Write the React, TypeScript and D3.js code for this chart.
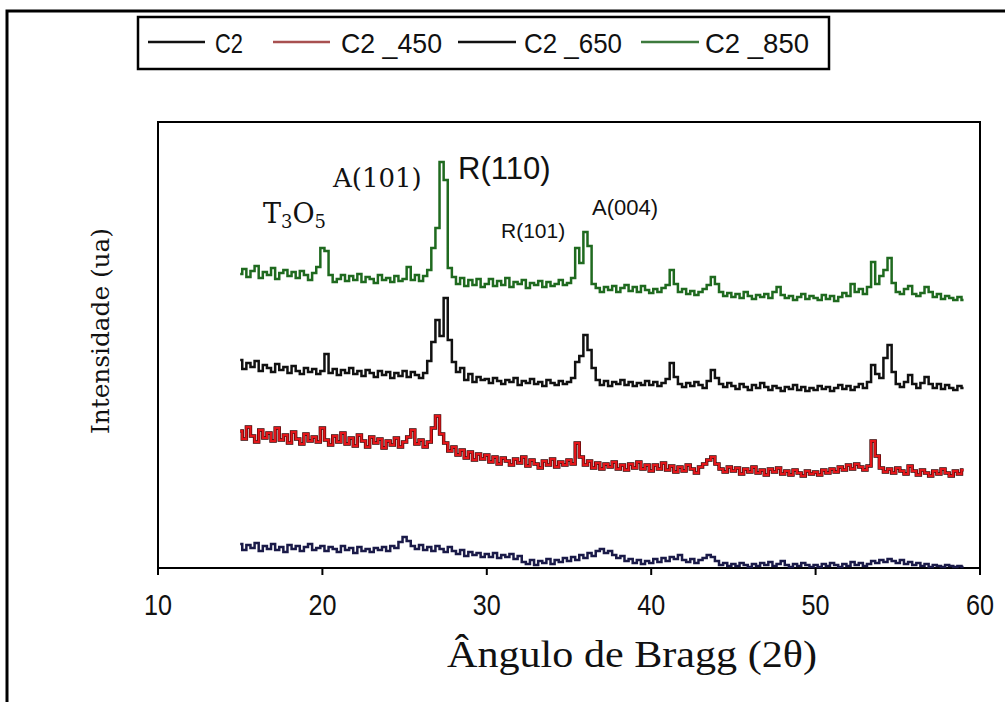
import React from 'react';
import * as d3 from 'd3';

// 2θ sampling grid (degrees)
const angles = [
  15, 15.25, 15.5, 15.75, 16, 16.25, 16.5, 16.75, 17, 17.25, 17.5, 17.75, 18, 18.25, 18.5, 18.75, 19, 19.25, 19.5, 19.75,
  20, 20.25, 20.5, 20.75, 21, 21.25, 21.5, 21.75, 22, 22.25, 22.5, 22.75, 23, 23.25, 23.5, 23.75, 24, 24.25, 24.5, 24.75,
  25, 25.25, 25.5, 25.75, 26, 26.25, 26.5, 26.75, 27, 27.25, 27.5, 27.75, 28, 28.25, 28.5, 28.75, 29, 29.25, 29.5, 29.75,
  30, 30.25, 30.5, 30.75, 31, 31.25, 31.5, 31.75, 32, 32.25, 32.5, 32.75, 33, 33.25, 33.5, 33.75, 34, 34.25, 34.5, 34.75,
  35, 35.25, 35.5, 35.75, 36, 36.25, 36.5, 36.75, 37, 37.25, 37.5, 37.75, 38, 38.25, 38.5, 38.75, 39, 39.25, 39.5, 39.75,
  40, 40.25, 40.5, 40.75, 41, 41.25, 41.5, 41.75, 42, 42.25, 42.5, 42.75, 43, 43.25, 43.5, 43.75, 44, 44.25, 44.5, 44.75,
  45, 45.25, 45.5, 45.75, 46, 46.25, 46.5, 46.75, 47, 47.25, 47.5, 47.75, 48, 48.25, 48.5, 48.75, 49, 49.25, 49.5, 49.75,
  50, 50.25, 50.5, 50.75, 51, 51.25, 51.5, 51.75, 52, 52.25, 52.5, 52.75, 53, 53.25, 53.5, 53.75, 54, 54.25, 54.5, 54.75,
  55, 55.25, 55.5, 55.75, 56, 56.25, 56.5, 56.75, 57, 57.25, 57.5, 57.75, 58, 58.25, 58.5, 58.75, 59,
];

// Intensities (ua), offset stacked as in the figure
const c2 = [
  24, 18, 23, 20, 25, 17, 22, 19, 24, 18, 21, 16, 23, 19, 22, 17, 21, 24, 18, 20,
  22, 17, 21, 19, 16, 22, 18, 20, 15, 21, 17, 19, 16, 20, 18, 21, 17, 22, 20, 26,
  31, 27, 22, 19, 23, 18, 21, 17, 22, 19, 16, 21, 17, 14, 18, 12, 16, 13, 15, 11,
  14, 11, 15, 10, 13, 11, 14, 9, 12, 6, 4, 8, 3, 7, 5, 9, 4, 8, 6, 10,
  7, 11, 8, 13, 10, 15, 12, 17, 19, 15, 17, 13, 10, 12, 7, 9, 5, 8, 4, 7,
  5, 9, 6, 10, 7, 11, 9, 13, 8, 6, 9, 5, 8, 10, 13, 11, 7, 3, 5, 2,
  4, 2, 5, 3, 1, 4, 2, 5, 3, 6, 2, 4, 7, 3, 1, 4, 2, 5, 3, 1,
  3, 1, 4, 2, 5, 3, 1, 4, 2, 6, 3, 5, 2, 4, 7, 5, 8, 6, 9, 7,
  5, 8, 4, 6, 3, 5, 2, 4, 1, 3, 2, 1, 3, 2, 1, 2, 1,
];

const c2_450 = [
  137, 129, 141, 132, 126, 138, 130, 135, 127, 140, 128, 133, 125, 136, 129, 124, 134, 127, 131, 126,
  140, 128, 123, 132, 126, 135, 124, 130, 122, 133, 127, 121, 131, 125, 129, 120, 127, 123, 130, 121,
  126, 131, 138, 124, 128, 121, 126, 140, 152, 134, 125, 117, 121, 113, 118, 110, 116, 108, 114, 109,
  113, 106, 111, 104, 110, 107, 103, 109, 105, 111, 102, 108, 104, 100, 107, 103, 109, 101, 106, 103,
  108, 104, 125, 111, 103, 107, 100, 105, 99, 104, 101, 106, 99, 103, 98, 104, 100, 106, 99, 103,
  97, 103, 99, 105, 98, 102, 96, 101, 97, 103, 99, 95, 101, 104, 108, 111, 104, 99, 96, 101,
  97, 100, 94, 99, 96, 101, 95, 98, 93, 99, 96, 100, 94, 97, 93, 98, 95, 92, 97, 94,
  96, 93, 98, 95, 99, 96, 101, 98, 103, 99, 104, 101, 98, 102, 127, 112, 100, 96, 99, 95,
  100, 97, 94, 102, 97, 93, 98, 95, 92, 97, 94, 99, 95, 92, 97, 94, 98,
];

const c2_650 = [
  208, 199, 205, 201, 207, 197, 203, 200, 196, 204, 198, 201, 195, 202, 197, 194, 200, 196, 199, 194,
  197, 214, 195, 199, 193, 198, 195, 200, 194, 197, 192, 198, 195, 191, 197, 193, 196, 190, 195, 192,
  197, 191, 196, 193, 190, 195, 207, 226, 248, 232, 270, 228, 206, 196, 200, 188, 194, 186, 191, 188,
  189, 185, 190, 187, 184, 188, 186, 190, 183, 187, 185, 189, 184, 186, 182, 188, 185, 183, 187, 184,
  186, 190, 206, 212, 233, 218, 200, 188, 183, 187, 182, 186, 184, 188, 183, 186, 182, 185, 183, 187,
  183, 186, 182, 185, 189, 205, 191, 184, 181, 185, 182, 186, 183, 180, 187, 198, 190, 184, 181, 185,
  182, 179, 184, 181, 178, 183, 180, 185, 181, 178, 182, 180, 177, 181, 179, 183, 178, 181, 177, 180,
  178, 182, 179, 181, 177, 180, 183, 179, 182, 178, 181, 184, 180, 186, 203, 194, 190, 210, 223, 196,
  184, 181, 186, 193, 184, 180, 185, 191, 184, 180, 184, 179, 183, 180, 178, 182, 180,
];

const c2_850 = [
  294, 299, 291, 297, 302, 290, 296, 293, 300, 289, 295, 298, 292, 296, 290, 297, 293, 288, 295, 301,
  320, 317, 293, 286, 289, 293, 287, 292, 288, 294, 286, 291, 289, 285, 293, 288, 290, 286, 292, 287,
  289, 301, 288, 293, 287, 292, 298, 320, 340, 406, 388, 300, 291, 284, 290, 282, 288, 283, 289, 281,
  284, 289, 282, 287, 283, 290, 281, 286, 284, 288, 280, 285, 283, 287, 281, 286, 282, 284, 288, 283,
  285, 290, 320, 305, 336, 322, 284, 280, 276, 281, 278, 282, 276, 280, 283, 277, 281, 276, 282, 278,
  275, 279, 276, 280, 283, 298, 284, 276, 279, 274, 277, 273, 276, 279, 283, 291, 284, 276, 272, 275,
  271, 274, 270, 276, 272, 269, 273, 271, 274, 270, 276, 281, 273, 270, 272, 268, 271, 274, 269, 272,
  270, 268, 273, 269, 272, 267, 271, 275, 272, 284, 276, 279, 274, 281, 306, 284, 292, 298, 310, 285,
  276, 274, 279, 282, 274, 272, 275, 281, 276, 271, 274, 269, 272, 270, 268, 271, 268,
];

const seriesNames = ['C2', 'C2 _450', 'C2 _650', 'C2 _850'];
const seriesColors = ['#1a1a48', '#e3161a', '#111111', '#1f6a1f'];
const legendColors = ['#111111', '#a85050', '#111111', '#3d7a3d'];
const xTicks = [10, 20, 30, 40, 50, 60];

export default function App() {
  const x = d3.scaleLinear().domain([10, 60]).range([158, 980]);
  const y = d3.scaleLinear().domain([0, 446]).range([568, 122]);
  const allSeries = [c2, c2_450, c2_650, c2_850];

  const makePath = (vals: number[]) => {
    const pts: [number, number][] = [];
    vals.forEach((v, i) => {
      if (angles[i] !== undefined) pts.push([angles[i], v]);
    });
    return d3
      .line<[number, number]>()
      .x((d) => x(d[0]))
      .y((d) => y(d[1]))
      .curve(d3.curveStep)(pts) as string;
  };

  const sans = 'Liberation Sans, Arial, sans-serif';
  const legendItems = [
    { lx1: 148, lx2: 205, tx: 215, w: 28 },
    { lx1: 273, lx2: 330, tx: 341, w: 101 },
    { lx1: 458, lx2: 516, tx: 524, w: 98 },
    { lx1: 641, lx2: 699, tx: 705, w: 104 },
  ];

  return (
    <svg
      width={1005}
      height={702}
      style={{ position: 'absolute', left: 0, top: 0, background: '#fff' }}
    >
      <rect x={0} y={0} width={1005} height={702} fill="#fff" />
      {/* outer frame */}
      <rect x={7} y={11} width={1100} height={800} fill="none" stroke="#000" strokeWidth={3} />

      {/* legend */}
      <rect x={138} y={17} width={691} height={52} fill="#fff" stroke="#000" strokeWidth={2.5} />
      {seriesNames.map((name, i) => (
        <g key={name}>
          <line
            x1={legendItems[i].lx1}
            x2={legendItems[i].lx2}
            y1={42}
            y2={42}
            stroke={legendColors[i]}
            strokeWidth={2.5}
          />
          <text
            x={legendItems[i].tx}
            y={53}
            fontFamily={sans}
            fontSize={28}
            fill="#111"
            textLength={legendItems[i].w}
            lengthAdjust="spacingAndGlyphs"
            style={{ whiteSpace: 'pre' }}
          >
            {name}
          </text>
        </g>
      ))}

      {/* plot frame */}
      <rect x={158} y={122} width={822} height={446} fill="none" stroke="#000" strokeWidth={2} />

      {/* x axis ticks */}
      {xTicks.map((t) => (
        <g key={t}>
          <line x1={x(t)} x2={x(t)} y1={568} y2={575} stroke="#000" strokeWidth={2} />
          <text
            x={x(t) - 14}
            y={615}
            fontFamily={sans}
            fontSize={30}
            fill="#111"
            textLength={28}
            lengthAdjust="spacingAndGlyphs"
          >
            {t}
          </text>
        </g>
      ))}

      {/* series */}
      {allSeries.map((vals, i) => (
        <g key={i}>
          {i === 1 && (
            <path d={makePath(vals)} fill="none" stroke="#3a0000" strokeWidth={3.4} strokeLinejoin="miter" />
          )}
          <path
            d={makePath(vals)}
            fill="none"
            stroke={seriesColors[i]}
            strokeWidth={i === 1 ? 2.2 : 2.5}
            strokeLinejoin="miter"
          />
        </g>
      ))}

      {/* peak labels */}
      <text x={263} y={223} fontFamily="DejaVu Serif, serif" fontSize={27} fill="#111">
        T<tspan fontSize={18} dy={5}>3</tspan>
        <tspan dy={-5}>O</tspan>
        <tspan fontSize={18} dy={5}>5</tspan>
      </text>
      <text x={333} y={187} fontFamily="DejaVu Serif, serif" fontSize={26} fill="#111">
        A(101)
      </text>
      <text x={458} y={179} fontFamily={sans} fontSize={31} fill="#111">
        R(110)
      </text>
      <text x={501} y={238} fontFamily={sans} fontSize={21} fill="#111">
        R(101)
      </text>
      <text x={592} y={215} fontFamily={sans} fontSize={22} fill="#111">
        A(004)
      </text>

      {/* axis titles */}
      <text
        x={632}
        y={667}
        textAnchor="middle"
        fontFamily="Liberation Serif, Times New Roman, serif"
        fontSize={38}
        fill="#111"
        textLength={370}
        lengthAdjust="spacingAndGlyphs"
      >
        Ângulo de Bragg (2θ)
      </text>
      <text
        transform="translate(109,331) rotate(-90)"
        textAnchor="middle"
        fontFamily="DejaVu Serif, serif"
        fontSize={25}
        fill="#111"
        textLength={206}
        lengthAdjust="spacingAndGlyphs"
      >
        Intensidade (ua)
      </text>
    </svg>
  );
}
